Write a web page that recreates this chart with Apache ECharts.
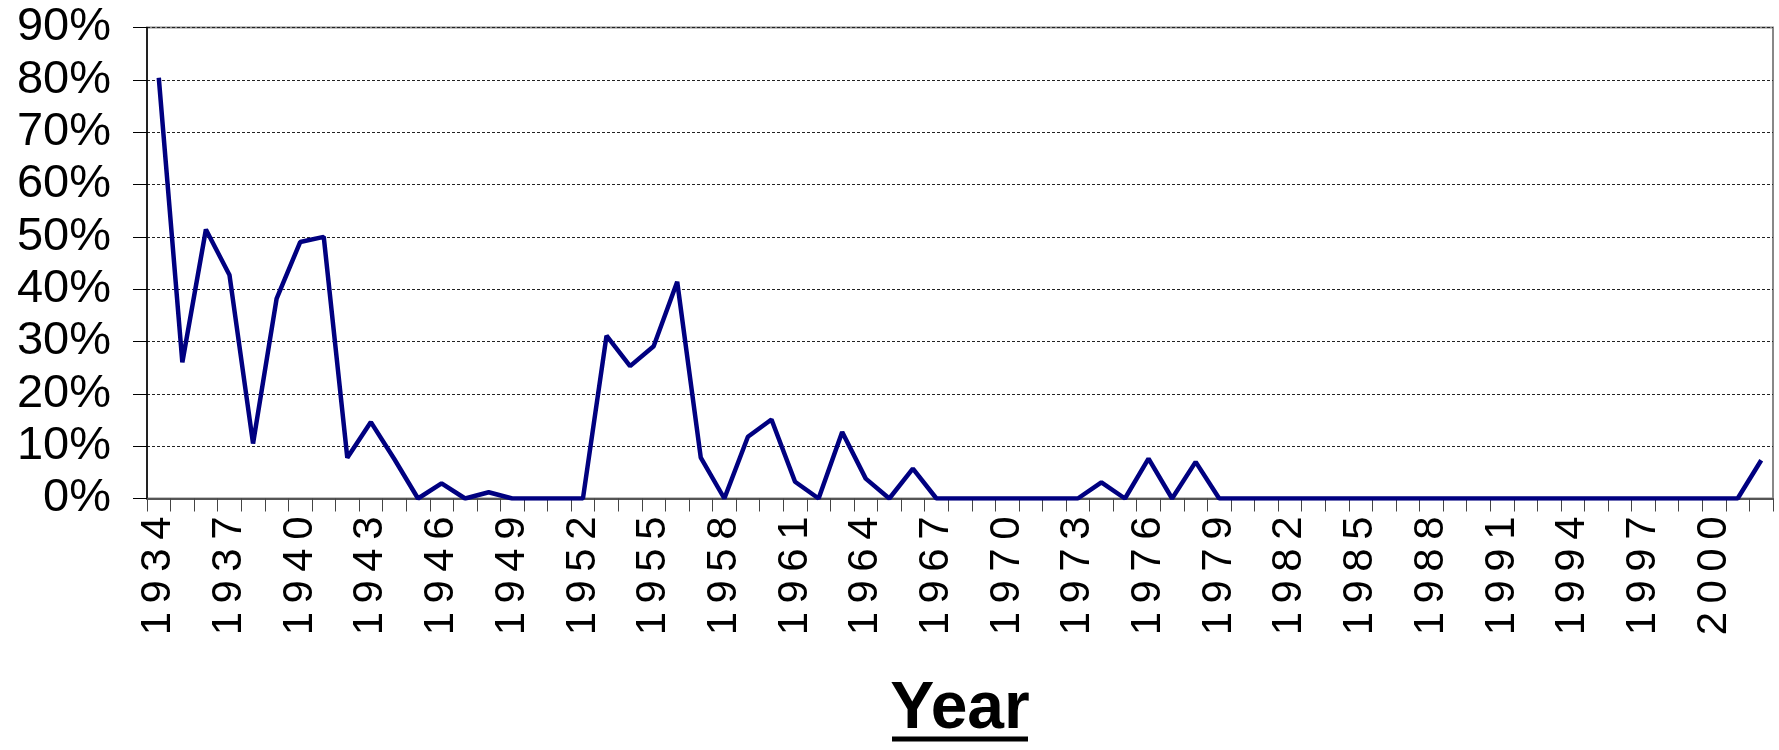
<!DOCTYPE html>
<html>
<head>
<meta charset="utf-8">
<script src="https://cdn.jsdelivr.net/npm/echarts@6/dist/echarts.min.js"></script>
<style>
html,body{margin:0;padding:0;background:#fff;}
#chart{width:1779px;height:750px;}
</style>
</head>
<body>
<div id="chart"></div>
<script>
var years = ['1934','1935','1936','1937','1938','1939','1940','1941','1942','1943','1944','1945','1946','1947','1948','1949','1950','1951','1952','1953','1954','1955','1956','1957','1958','1959','1960','1961','1962','1963','1964','1965','1966','1967','1968','1969','1970','1971','1972','1973','1974','1975','1976','1977','1978','1979','1980','1981','1982','1983','1984','1985','1986','1987','1988','1989','1990','1991','1992','1993','1994','1995','1996','1997','1998','1999','2000','2001','2002'];
var percentValues = [80.4,26,51.4,42.7,10.5,38.2,49,50,7.8,14.6,7.5,0,2.9,0,1.2,0,0,0,0,31.1,25.3,29.1,41.4,7.8,0,11.8,15.1,3.2,0,12.7,3.8,0,5.7,0,0,0,0,0,0,0,3.1,0,7.6,0,7.0,0,0,0,0,0,0,0,0,0,0,0,0,0,0,0,0,0,0,0,0,0,0,0,7.3];
var yTickLabels = ['0%','10%','20%','30%','40%','50%','60%','70%','80%','90%'];
var axisTitle = 'Year';

var FONT = '"Liberation Sans", Arial, sans-serif';
var chart = echarts.init(document.getElementById('chart'), null, {renderer:'canvas'});
chart.setOption({
  animation:false,
  backgroundColor:'#fff',
  grid:{left:147,right:6,top:27.5,bottom:241.5,containLabel:false,show:true,borderColor:'#888',borderWidth:2,backgroundColor:'transparent'},
  xAxis:{
    type:'category',
    data:years,
    boundaryGap:true,
    axisLine:{show:true,lineStyle:{color:'#555',width:2}},
    axisTick:{show:true,interval:0,length:13,inside:false,alignWithLabel:false,lineStyle:{color:'#444',width:1}},
    axisLabel:{
      interval:2,rotate:90,margin:18,color:'#000',fontFamily:FONT,fontSize:42,
      formatter:function(v){return v.split('').join('\u2009');}
    },
    splitLine:{show:false},
    name:'{a|'+axisTitle+'}\n{u|}',
    nameLocation:'middle',
    nameGap:184,
    nameTextStyle:{
      fontFamily:FONT,
      rich:{
        a:{fontFamily:FONT,fontSize:66,fontWeight:'bold',color:'#000',lineHeight:54,align:'center'},
        u:{backgroundColor:'#000',height:5,width:136,lineHeight:5,align:'center'}
      }
    }
  },
  yAxis:{
    type:'value',min:0,max:0.9,interval:0.1,
    axisLine:{show:true,lineStyle:{color:'#000',width:1.5}},
    axisTick:{show:true,length:14,inside:false,lineStyle:{color:'#000',width:1}},
    axisLabel:{margin:36,color:'#000',fontFamily:FONT,fontSize:47,
      formatter:function(v){return yTickLabels[Math.round(v*10)];}},
    splitLine:{show:true,lineStyle:{color:'#222',width:1,type:[3,2]}}
  },
  series:[{
    type:'line',
    data:percentValues.map(function(p){return p/100;}),
    symbol:'none',
    lineStyle:{color:'#000080',width:4.5},
    itemStyle:{color:'#000080'}
  }]
});
</script>
</body>
</html>
